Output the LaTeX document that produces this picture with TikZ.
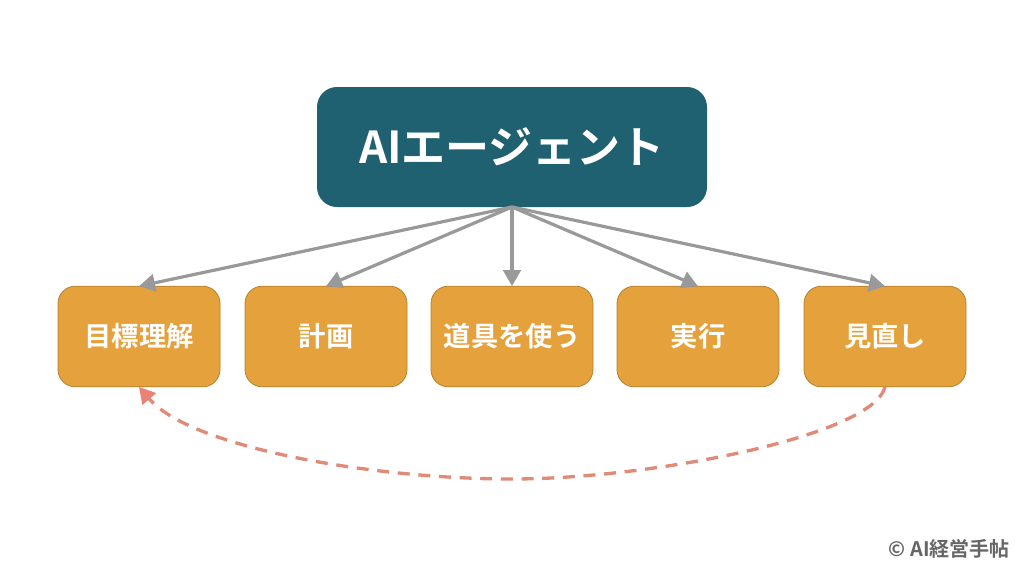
\documentclass[tikz,border=0pt]{standalone}
\usepackage{fontspec}
\setmainfont{Noto Sans CJK JP}[BoldFont={* Bold}]
\usepackage{tikz}
\usetikzlibrary{arrows.meta}

\definecolor{agentfill}{HTML}{1F6071}
\definecolor{stepfill}{HTML}{E5A13B}
\definecolor{stepline}{HTML}{B57F2E}
\definecolor{linkgray}{HTML}{999999}
\definecolor{loopred}{HTML}{E08A78}
\definecolor{looptip}{HTML}{EA8274}
\definecolor{markgray}{HTML}{666666}

\tikzset{
	agentbox/.style={rounded corners=15pt, fill=agentfill, text=white, font=\bfseries\fontsize{33}{33}\selectfont,
		minimum width=292.5pt, minimum height=90pt, inner sep=0pt, outer sep=0pt},
	stepbox/.style={rounded corners=13pt, draw=stepline, line width=0.6pt, fill=stepfill, text=white,
		font=\bfseries\fontsize{20.5}{20.5}\selectfont, minimum width=121.5pt, minimum height=75.5pt, inner sep=0pt, outer sep=0pt},
	link/.style={draw=linkgray, line width=2.4pt, -{Triangle[width=13pt,length=12pt]}},
	loopback/.style={draw=loopred, line width=2.5pt, dash pattern=on 9pt off 6.5pt, -{Triangle[width=13pt,length=12pt,color=looptip]}},
}

\begin{document}
\begin{tikzpicture}[x=0.75pt,y=-0.75pt]
	\useasboundingbox (0,0) rectangle (1024,572);

	% Agent on top, five steps below
	\node [agentbox] (agent) at (512,147) {AIエージェント};
	\node [stepbox] (goal) at (139,336.5) {目標理解};
	\node [stepbox] (plan) at (326,336.5) {計画};
	\node [stepbox] (tools) at (512,336.5) {道具を使う};
	\node [stepbox] (act) at (698,336.5) {実行};
	\node [stepbox] (review) at (885,336.5) {見直し};

	\draw [link] (agent.south) -- (goal.north);
	\draw [link] (agent.south) -- (plan.north);
	\draw [link] (agent.south) -- (tools.north);
	\draw [link] (agent.south) -- (act.north);
	\draw [link] (agent.south) -- (review.north);

	% Dashed return from the last step to the first
	\coordinate (loopmid) at (512,479);
	\draw [loopback] (review.south) .. controls (873,436) and (650,479) .. (loopmid)
		.. controls (370,479) and (190,447) .. (goal.south);

	\node [text=markgray, font=\bfseries\fontsize{15}{15}\selectfont, anchor=east, inner sep=0pt] (mark) at (1010,549) {© AI経営手帖};
\end{tikzpicture}
\end{document}
